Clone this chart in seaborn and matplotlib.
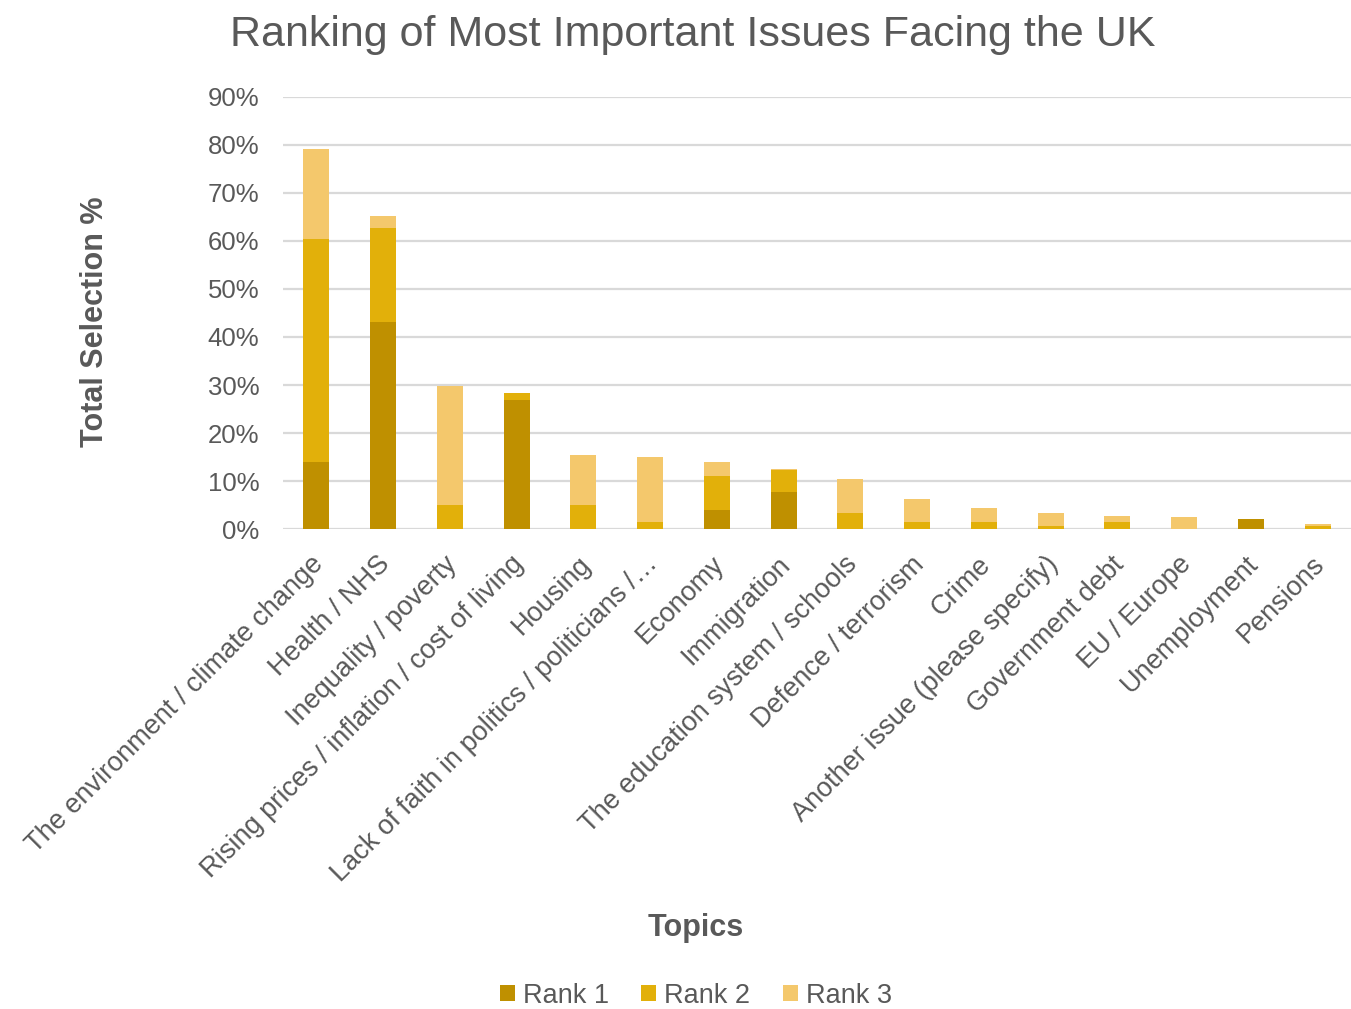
import matplotlib
matplotlib.use("Agg")
import matplotlib.pyplot as plt
import matplotlib.transforms as mtransforms
from matplotlib.patches import Patch
from matplotlib.ticker import PercentFormatter, MultipleLocator
import numpy as np
import pandas as pd
import seaborn as sns

topics = [
    "The environment / climate change",
    "Health / NHS",
    "Inequality / poverty",
    "Rising prices / inflation / cost of living",
    "Housing",
    "Lack of faith in politics / politicians /\u2026",
    "Economy",
    "Immigration",
    "The education system / schools",
    "Defence / terrorism",
    "Crime",
    "Another issue (please specify)",
    "Government debt",
    "EU / Europe",
    "Unemployment",
    "Pensions",
]
rank1 = [14.0, 43.2, 0.0, 26.9, 0.0, 0.0, 3.9, 7.8, 0.0, 0.0, 0.0, 0.0, 0.0, 0.0, 2.0, 0.0]
rank2 = [46.4, 19.6, 4.9, 1.4, 4.9, 1.5, 7.1, 4.4, 3.3, 1.5, 1.5, 0.6, 1.5, 0.0, 0.0, 0.6]
rank3 = [18.8, 2.4, 24.8, 0.0, 10.5, 13.4, 2.9, 0.3, 7.2, 4.7, 2.8, 2.7, 1.3, 2.4, 0.0, 0.4]

series_names = ["Rank 1", "Rank 2", "Rank 3"]
colors = ["#BF9000", "#E2B00A", "#F4C86C"]
text_grey = "#595959"

sns.set_theme(style="white")
plt.rcParams["font.family"] = ["Liberation Sans", "DejaVu Sans"]

df = pd.DataFrame({"topic": topics, "r1": rank1, "r2": rank2, "r3": rank3})
df["lvl1"] = df["r1"] / 100
df["lvl2"] = (df["r1"] + df["r2"]) / 100
df["lvl3"] = (df["r1"] + df["r2"] + df["r3"]) / 100

fig = plt.figure(figsize=(13.51, 10.09), dpi=100)
ax = fig.add_axes([0.2095, 0.4757, 0.7905, 0.4282])

# stacked bars: draw cumulative totals from the top layer down
for col, color in zip(["lvl3", "lvl2", "lvl1"], colors[::-1]):
    sns.barplot(data=df, x="topic", y=col, color=color, width=0.39,
                saturation=1, ax=ax, zorder=3, linewidth=0)

ax.set_ylim(0, 0.9)
ax.set_xlim(-0.5, len(topics) - 0.5)
ax.yaxis.set_major_locator(MultipleLocator(0.1))
ax.yaxis.set_major_formatter(PercentFormatter(1.0, decimals=0))
ax.grid(axis="y", color="#D9D9D9", linewidth=1.6, zorder=0)
ax.set_axisbelow(True)
for s in ax.spines.values():
    s.set_visible(False)
ax.tick_params(axis="y", length=0, pad=17, labelsize=18.5, labelcolor=text_grey)
ax.tick_params(axis="x", length=0, pad=16, labelsize=19.5, labelcolor=text_grey)
ax.set_xlabel("")
ax.set_ylabel("")
shift = mtransforms.ScaledTranslation(-6 / 100, 0, fig.dpi_scale_trans)
for lab in ax.get_xticklabels():
    lab.set_rotation(45)
    lab.set_ha("right")
    lab.set_rotation_mode("anchor")
    lab.set_transform(lab.get_transform() + shift)

fig.text(0.513, 0.965, "Ranking of Most Important Issues Facing the UK",
         ha="center", va="center", fontsize=31, color=text_grey)
fig.text(0.070, 0.681, "Total Selection %", rotation=90, ha="center", va="center",
         fontsize=22, fontweight="bold", color=text_grey)
fig.text(0.515, 0.08, "Topics", ha="center", va="center",
         fontsize=22, fontweight="bold", color=text_grey)

handles = [Patch(facecolor=c, edgecolor="none", label=n) for c, n in zip(colors, series_names)]
fig.legend(handles=handles, loc="center", bbox_to_anchor=(0.515, 0.013), ncol=3,
           frameon=False, fontsize=19.5, labelcolor=text_grey, handlelength=0.55,
           handleheight=0.55, handletextpad=0.3, columnspacing=1.2)

fig.savefig("out.png", dpi=100)
